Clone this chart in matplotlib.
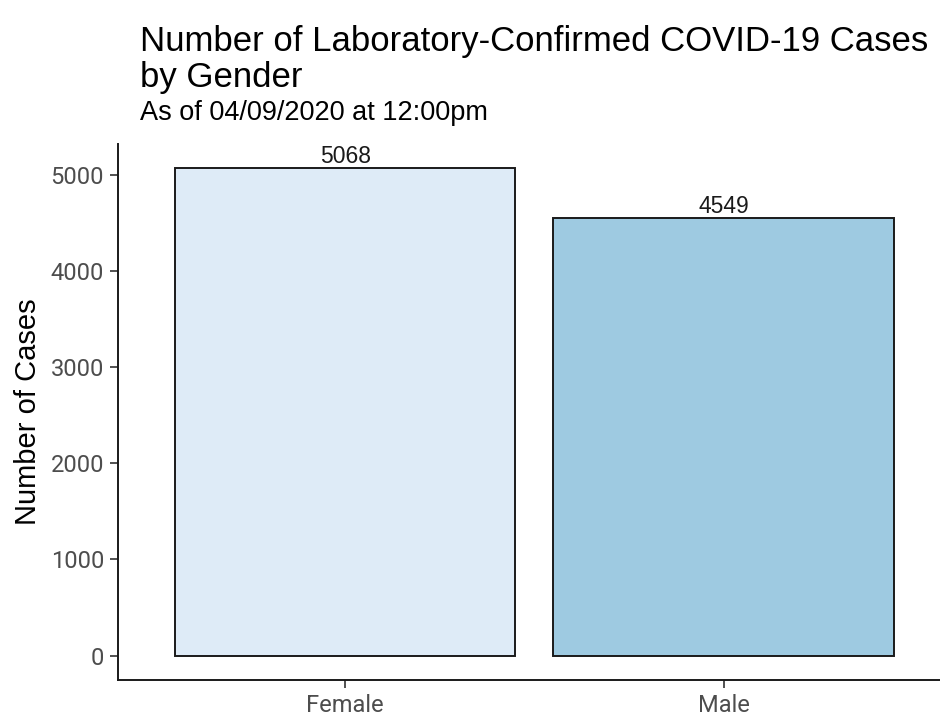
import matplotlib
matplotlib.use("Agg")
import matplotlib.pyplot as plt

# data
genders = ["Female", "Male"]
cases = [5068, 4549]
bar_colors = ["#deebf7", "#9ecae1"]
yticks = [0, 1000, 2000, 3000, 4000, 5000]

title = "Number of Laboratory-Confirmed COVID-19 Cases\nby Gender"
subtitle = "As of 04/09/2020 at 12:00pm"

plt.rcParams["font.family"] = ["Liberation Sans", "DejaVu Sans"]

fig = plt.figure(figsize=(9.4, 7.23), dpi=100)
ax = fig.add_axes([0.1255, 0.0595, 0.886, 0.7414])

x = list(range(1, len(genders) + 1))
ax.bar(x, cases, width=0.9, color=bar_colors, edgecolor="#1a1a1a", linewidth=1.4)

for xi, v in zip(x, cases):
    ax.annotate(str(v), (xi, v), xytext=(0, 0), textcoords="offset points",
                ha="center", va="bottom", fontsize=16.5, color="#1a1a1a")

ax.set_xlim(0.4, 2.6)
ymax = max(cases)
ax.set_ylim(-0.05 * ymax, 1.05 * ymax)
ax.set_xticks(x)
ax.set_xticklabels(genders)
ax.set_yticks(yticks)

for s in ["top", "right"]:
    ax.spines[s].set_visible(False)
for s in ["left", "bottom"]:
    ax.spines[s].set_linewidth(1.4)
    ax.spines[s].set_color("#1a1a1a")

ax.tick_params(axis="both", length=6, width=1.2, color="#333333",
               labelsize=17, labelcolor="#4d4d4d", pad=4)
for lab in ax.get_xticklabels() + ax.get_yticklabels():
    lab.set_family(["Roboto", "DejaVu Sans"])

ax.set_ylabel("Number of Cases", fontsize=21, color="black", labelpad=6)

fig.text(140 / 940, 1 - 25 / 723, title, ha="left", va="top", fontsize=25,
         color="black", linespacing=1.12)
fig.text(140 / 940, 1 - 100 / 723, subtitle, ha="left", va="top", fontsize=19.5,
         color="black")

fig.savefig("out.png", dpi=100)
